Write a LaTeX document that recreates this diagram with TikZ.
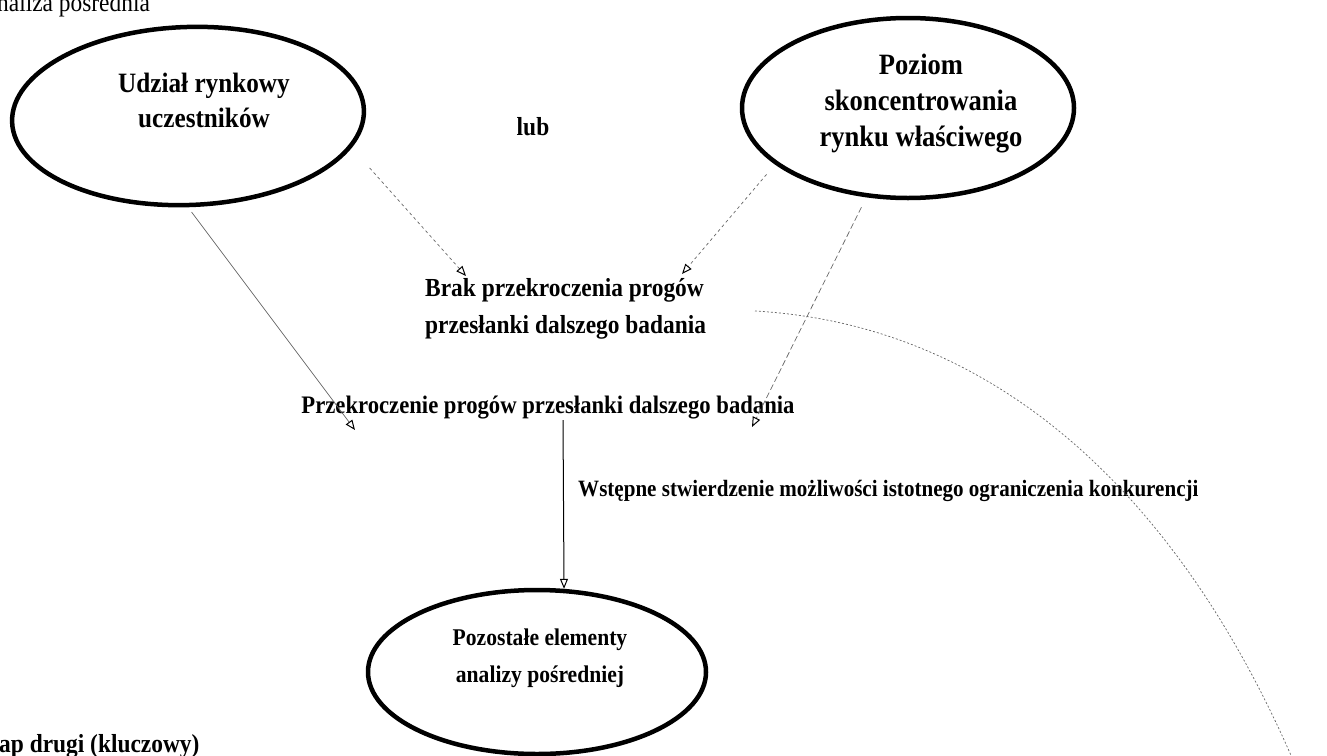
\documentclass[tikz,border=0pt]{standalone}
\usepackage{fontspec}
\setmainfont{Liberation Serif}[FakeStretch=0.9]
\usetikzlibrary{arrows.meta,shapes.geometric}
\tikzset{
  oval/.style={draw, ellipse, line width=4.5pt, inner sep=0pt},
  lbl/.style={font=\bfseries\fontsize{26}{37}\selectfont, align=center, inner sep=0pt},
  link/.style={draw=black!60, line width=0.7pt, -{Triangle[open,length=10pt,width=8pt,line width=1pt,color=black]}},
}

\begin{document}
\begin{tikzpicture}[x=1pt,y=-1pt]
\useasboundingbox (0,0) rectangle (1327,755);

\node[anchor=base west, inner sep=0pt, font=\fontsize{26}{30}\selectfont] (etapjeden) at (-3,11) {naliza pośrednia};
\node[anchor=base west, inner sep=0pt, font=\bfseries\fontsize{26}{30}\selectfont] (etapdwa) at (-1,752) {ap drugi (kluczowy)};

\node[oval, minimum width=352pt, minimum height=178pt, rotate=2] (udzial) at (188,116) {};
\node[lbl, font=\bfseries\fontsize{28}{35}\selectfont] (udzialtxt) at (204,100) {Udział rynkowy\\uczestników};
\node[oval, minimum width=332pt, minimum height=180pt] (poziom) at (908,108) {};
\node[lbl, font=\bfseries\fontsize{29.5}{36}\selectfont] (poziomtxt) at (921,104) {Poziom\\skoncentrowania\\rynku właściwego};
\node[oval, minimum width=338pt, minimum height=164pt] (pozostale) at (537,672) {};
\node[lbl, font=\bfseries\fontsize{24}{37}\selectfont] (pozostaletxt) at (540,658) {Pozostałe elementy\\analizy pośredniej};

\node[lbl] (lub) at (533,127) {lub};
\node[lbl, align=left, anchor=west] (brak) at (425,309) {Brak przekroczenia progów\\przesłanki dalszego badania};
\node[lbl, font=\bfseries\fontsize{25.2}{30}\selectfont] (przekr) at (548,408) {Przekroczenie progów przesłanki dalszego badania};
\node[lbl, anchor=west, font=\bfseries\fontsize{23.4}{30}\selectfont] (wstepne) at (578,491) {Wstępne stwierdzenie możliwości istotnego ograniczenia konkurencji};

% arrow tips next to the texts
\coordinate (przekrL) at (355,430);
\coordinate (przekrR) at (752,427);
\coordinate (brakL) at (466,276);
\coordinate (brakR) at (682,274);
\coordinate (vstart) at (563,420);

\draw[link, shorten <=6pt] (udzial.268) -- (przekrL);
\draw[link, dash pattern=on 3pt off 3pt, shorten <=27pt] (udzial.-13) -- (brakL);
\draw[link, dash pattern=on 3pt off 3pt, shorten <=13pt] (poziom.203) -- (brakR);
\draw[link, dash pattern=on 6pt off 3pt, shorten <=11pt] (poziom.245) -- (przekrR);
\draw[link, draw=black, line width=1pt] (vstart) -- (pozostale.72);

% dotted arc on the right
\coordinate (arcA) at (755,311);
\coordinate (arcB) at (1293,760);
\draw[black!60, line width=0.7pt, dash pattern=on 2pt off 2pt] (arcA) .. controls (1000,325) and (1180,500) .. (arcB);

\end{tikzpicture}
\end{document}
